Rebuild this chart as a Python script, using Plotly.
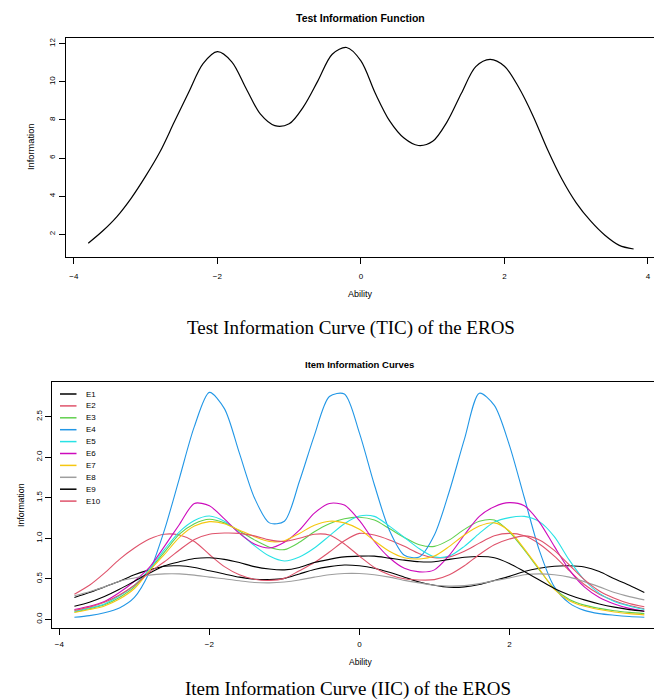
import plotly.graph_objects as go

W, H = 654, 700

# ability grid shared by every curve
ability = [-3.8, -3.6, -3.4, -3.2, -3.0, -2.8, -2.6, -2.4, -2.2, -2.0,
           -1.8, -1.6, -1.4, -1.2, -1.0, -0.8, -0.6, -0.4, -0.2, 0.0,
           0.2, 0.4, 0.6, 0.8, 1.0, 1.2, 1.4, 1.6, 1.8, 2.0,
           2.2, 2.4, 2.6, 2.8, 3.0, 3.2, 3.4, 3.6, 3.8]

# test information (top panel)
test_info = [1.53, 2.17, 2.93, 3.90, 5.05, 6.33, 7.90, 9.45, 10.95, 11.58,
             11.05, 9.65, 8.30, 7.70, 7.80, 8.70, 10.05, 11.45, 11.80, 11.10,
             9.40, 7.95, 7.05, 6.66, 6.88, 7.90, 9.40, 10.80, 11.18, 10.82,
             9.70, 8.20, 6.45, 4.90, 3.65, 2.70, 1.95, 1.42, 1.23]

# item information (bottom panel)
item_names = ["E1", "E2", "E3", "E4", "E5", "E6", "E7", "E8", "E9", "E10"]

e1 = [0.27, 0.33, 0.40, 0.47, 0.55, 0.61, 0.655, 0.66, 0.64, 0.60,
      0.56, 0.52, 0.495, 0.49, 0.505, 0.56, 0.615, 0.65, 0.67, 0.66,
      0.63, 0.58, 0.52, 0.46, 0.42, 0.395, 0.40, 0.43, 0.48, 0.53,
      0.59, 0.63, 0.655, 0.66, 0.645, 0.59, 0.50, 0.42, 0.33]
e2 = [0.31, 0.42, 0.57, 0.74, 0.88, 0.99, 1.05, 1.04, 0.96, 0.80,
      0.65, 0.55, 0.495, 0.48, 0.505, 0.60, 0.70, 0.83, 0.97, 1.06,
      1.04, 0.98, 0.90, 0.81, 0.76, 0.77, 0.84, 0.94, 1.03, 1.06,
      1.03, 0.93, 0.78, 0.60, 0.43, 0.31, 0.23, 0.17, 0.13]
e3 = [0.09, 0.13, 0.18, 0.27, 0.40, 0.61, 0.83, 1.05, 1.18, 1.235,
      1.19, 1.09, 0.98, 0.89, 0.86, 0.95, 1.08, 1.18, 1.24, 1.26,
      1.225, 1.12, 1.01, 0.92, 0.90, 0.98, 1.11, 1.21, 1.225, 1.08,
      0.855, 0.61, 0.38, 0.245, 0.175, 0.135, 0.105, 0.085, 0.07]
e4 = [0.025, 0.045, 0.08, 0.14, 0.27, 0.58, 1.10, 1.74, 2.38, 2.80,
      2.60, 2.05, 1.50, 1.19, 1.21, 1.70, 2.27, 2.75, 2.78, 2.30,
      1.66, 1.10, 0.79, 0.77, 1.04, 1.58, 2.22, 2.79, 2.64, 2.15,
      1.50, 0.85, 0.40, 0.20, 0.11, 0.07, 0.05, 0.035, 0.025]
e5 = [0.10, 0.14, 0.19, 0.29, 0.42, 0.62, 0.86, 1.08, 1.22, 1.275,
      1.21, 1.07, 0.91, 0.78, 0.72, 0.77, 0.88, 1.03, 1.18, 1.275,
      1.27, 1.15, 1.01, 0.87, 0.77, 0.78, 0.90, 1.06, 1.20, 1.255,
      1.27, 1.205, 1.02, 0.73, 0.485, 0.32, 0.22, 0.165, 0.12]
e6 = [0.12, 0.16, 0.22, 0.33, 0.47, 0.64, 0.90, 1.17, 1.43, 1.40,
      1.24, 1.06, 0.93, 0.88, 0.95, 1.10, 1.31, 1.43, 1.41, 1.22,
      0.96, 0.76, 0.63, 0.585, 0.61, 0.79, 1.04, 1.27, 1.39, 1.44,
      1.40, 1.20, 0.90, 0.61, 0.40, 0.27, 0.19, 0.135, 0.10]
e7 = [0.085, 0.12, 0.165, 0.25, 0.38, 0.60, 0.80, 1.01, 1.15, 1.205,
      1.18, 1.10, 1.02, 0.96, 0.97, 1.06, 1.16, 1.21, 1.19, 1.11,
      0.97, 0.84, 0.76, 0.745, 0.78, 0.90, 1.04, 1.15, 1.19, 1.09,
      0.87, 0.62, 0.37, 0.23, 0.16, 0.12, 0.09, 0.07, 0.055]
e8 = [0.29, 0.34, 0.40, 0.47, 0.51, 0.545, 0.56, 0.56, 0.545, 0.52,
      0.50, 0.475, 0.455, 0.45, 0.46, 0.485, 0.52, 0.55, 0.565, 0.565,
      0.55, 0.52, 0.48, 0.45, 0.42, 0.41, 0.415, 0.44, 0.475, 0.51,
      0.55, 0.56, 0.55, 0.52, 0.465, 0.40, 0.33, 0.28, 0.24]
e9 = [0.16, 0.21, 0.28, 0.37, 0.47, 0.57, 0.66, 0.71, 0.75, 0.76,
      0.74, 0.70, 0.65, 0.62, 0.61, 0.64, 0.70, 0.74, 0.77, 0.78,
      0.78, 0.755, 0.73, 0.71, 0.71, 0.74, 0.765, 0.775, 0.76, 0.69,
      0.59, 0.485, 0.38, 0.30, 0.24, 0.19, 0.15, 0.12, 0.10]
e10 = [0.11, 0.15, 0.21, 0.30, 0.42, 0.58, 0.71, 0.855, 0.985, 1.05,
       1.065, 1.06, 1.03, 0.98, 0.96, 1.00, 1.05, 1.04, 0.93, 0.78,
       0.64, 0.55, 0.50, 0.485, 0.49, 0.55, 0.66, 0.80, 0.92, 0.99,
       1.03, 0.98, 0.85, 0.67, 0.49, 0.35, 0.26, 0.195, 0.155]

item_values = [e1, e2, e3, e4, e5, e6, e7, e8, e9, e10]
item_colors = ["black", "#DF536B", "#61D04F", "#2297E6", "#28E2E5",
               "#CD0BBC", "#F5C710", "#9E9E9E", "black", "#DF536B"]

x_ticks_top = [-4, -2, 0, 2, 4]
y_ticks_top = [2, 4, 6, 8, 10, 12]
x_ticks_bottom = [-4, -2, 0, 2]
y_ticks_bottom = [0.0, 0.5, 1.0, 1.5, 2.0, 2.5]


def fx(p):
    # pixel column -> paper x
    return p / W


def fy(p):
    # pixel row -> paper y
    return 1 - p / H


SANS = "Liberation Sans, Arial, sans-serif"
SERIF = "Liberation Serif, Times New Roman, serif"

fig = go.Figure()

fig.add_trace(go.Scatter(
    x=ability, y=test_info, mode="lines",
    line=dict(color="black", width=1.2, shape="spline", smoothing=0.9),
    xaxis="x", yaxis="y", showlegend=False
))

for name, vals, col in zip(item_names, item_values, item_colors):
    fig.add_trace(go.Scatter(
        x=ability, y=vals, mode="lines", name=name,
        line=dict(color=col, width=1.1, shape="spline", smoothing=0.8),
        xaxis="x2", yaxis="y2", showlegend=False
    ))

axis_common = dict(
    showline=True, linecolor="black", linewidth=1,
    ticks="outside", ticklen=6, tickwidth=1, tickcolor="black",
    showgrid=False, zeroline=False,
    tickfont=dict(family=SANS, size=8, color="black"),
)

fig.update_layout(
    width=W, height=H,
    margin=dict(l=0, r=0, t=0, b=0),
    paper_bgcolor="white", plot_bgcolor="white",
    xaxis=dict(domain=[fx(66), 1], range=[-4.11, 4.084], tickvals=x_ticks_top,
               mirror=True, anchor="y", ticklabelstandoff=5, **axis_common),
    yaxis=dict(domain=[fy(257), fy(38)], range=[0.809, 12.30], tickvals=y_ticks_top,
               anchor="x", tickangle=-90, ticklabelstandoff=1, **axis_common),
    xaxis2=dict(domain=[fx(51.7), 1], range=[-4.103, 3.929], tickvals=x_ticks_bottom,
                mirror=True, anchor="y2", ticklabelstandoff=2, **axis_common),
    yaxis2=dict(domain=[fy(628.3), fy(381.7)], range=[-0.111, 2.932],
                tickvals=y_ticks_bottom, tickformat=".1f",
                anchor="x2", tickangle=-90, **axis_common),
)

texts = [
    ("Test Information Function", 360, 18, 10.5, SANS, True, 0),
    ("Ability", 360, 294, 9, SANS, False, 0),
    ("Information", 31, 147, 9.3, SANS, False, -90),
    ("Test Information Curve (TIC) of the EROS", 351, 328, 19, SERIF, False, 0),
    ("Item Information Curves", 359, 364, 9.5, SANS, True, 0),
    ("Ability", 360, 662, 8.5, SANS, False, 0),
    ("Information", 21, 505, 8.7, SANS, False, -90),
    ("Item Information Curve (IIC) of the EROS", 348, 689, 19, SERIF, False, 0),
]
for txt, px, py, size, fam, bold, ang in texts:
    fig.add_annotation(
        text=f"<b>{txt}</b>" if bold else txt,
        x=fx(px), y=fy(py), xref="paper", yref="paper",
        xanchor="center", yanchor="middle", showarrow=False, textangle=ang,
        font=dict(family=fam, size=size, color="black")
    )

# legend of the item panel, drawn by hand so the rows stay tight
for i, (name, col) in enumerate(zip(item_names, item_colors)):
    row = 394 + i * 11.9
    fig.add_shape(type="line", xref="paper", yref="paper",
                  x0=fx(60), x1=fx(76.5), y0=fy(row), y1=fy(row),
                  line=dict(color=col, width=1.5))
    fig.add_annotation(text=name, x=fx(84), y=fy(row), xref="paper", yref="paper",
                       xanchor="left", yanchor="middle", showarrow=False,
                       font=dict(family=SANS, size=8, color="black"))

# page body has an 8px default margin; drop it so the figure sits at 0,0
fig.write_html("out.html", config={"displayModeBar": False},
               post_script="document.body.style.margin='0px';")
